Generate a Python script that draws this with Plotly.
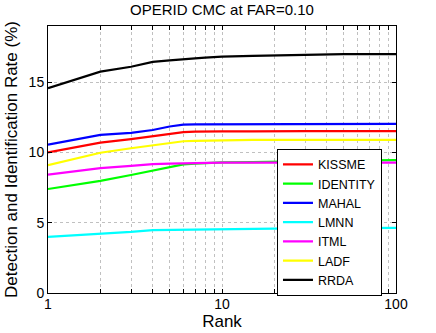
import plotly.graph_objects as go

ranks = [1, 2, 3, 4, 5, 6, 7, 8, 9, 10, 15, 20, 30, 50, 100]

kissme   = [10.0, 10.7, 10.95, 11.15, 11.3, 11.45, 11.48, 11.5, 11.5, 11.5, 11.5, 11.52, 11.52, 11.52, 11.52]
identity = [7.4, 7.98, 8.4, 8.7, 8.95, 9.15, 9.2, 9.25, 9.27, 9.3, 9.32, 9.35, 9.38, 9.42, 9.45]
mahal    = [10.55, 11.25, 11.4, 11.6, 11.85, 11.98, 12.0, 12.0, 12.0, 12.02, 12.02, 12.03, 12.03, 12.03, 12.03]
lmnn     = [4.0, 4.2, 4.35, 4.48, 4.5, 4.52, 4.53, 4.55, 4.55, 4.56, 4.57, 4.58, 4.6, 4.62, 4.64]
itml     = [8.43, 8.88, 9.05, 9.17, 9.2, 9.23, 9.25, 9.26, 9.27, 9.28, 9.28, 9.28, 9.28, 9.28, 9.28]
ladf     = [9.1, 9.98, 10.3, 10.5, 10.65, 10.8, 10.83, 10.85, 10.86, 10.88, 10.9, 10.9, 10.9, 10.9, 10.9]
rrda     = [14.57, 15.75, 16.1, 16.45, 16.55, 16.65, 16.7, 16.75, 16.8, 16.82, 16.88, 16.92, 16.98, 17.0, 17.0]

series = [
    ('KISSME', kissme, '#ff0000'),
    ('IDENTITY', identity, '#00ff00'),
    ('MAHAL', mahal, '#0000ff'),
    ('LMNN', lmnn, '#00ffff'),
    ('ITML', itml, '#ff00ff'),
    ('LADF', ladf, '#ffff00'),
    ('RRDA', rrda, '#000000'),
]

fig = go.Figure()
for name, vals, col in series:
    fig.add_trace(go.Scatter(x=ranks, y=vals, name=name, mode='lines',
                             line=dict(color=col, width=2.2)))

xtickvals = [1, 2, 3, 4, 5, 6, 7, 8, 9, 10, 20, 30, 40, 50, 60, 70, 80, 90, 100]
xticktext = ['1' if v == 1 else '10' if v == 10 else '100' if v == 100 else '' for v in xtickvals]

fnt = 'Liberation Sans, Arial, sans-serif'
fig.update_layout(
    width=436, height=333,
    margin=dict(l=48, r=40, t=26, b=40, autoexpand=False),
    paper_bgcolor='white', plot_bgcolor='white',
    font=dict(family=fnt, size=14, color='black'),
    title=dict(text='OPERID CMC at FAR=0.10', x=0.5, xanchor='center',
               xref='paper', yref='container', y=0.97, yanchor='middle',
               font=dict(size=15)),
    legend=dict(x=0.658, y=0.54, xanchor='left', yanchor='top',
                bgcolor='white', bordercolor='black', borderwidth=1,
                font=dict(size=12.5), tracegroupgap=0, itemwidth=30,
                entrywidth=78, entrywidthmode='pixels'),
    showlegend=True,
)
fig.update_xaxes(type='log', range=[0, 2], tickvals=xtickvals, ticktext=xticktext,
                 ticks='inside', ticklen=4, tickcolor='black', automargin=False,
                 showgrid=True, gridcolor='#c0c0c0', griddash='dot', gridwidth=1,
                 showline=True, linecolor='black', linewidth=1, mirror='ticks',
                 zeroline=False, title=dict(text='Rank', standoff=0),
                 ticklabelstandoff=-2, tickfont=dict(size=14))
fig.update_yaxes(range=[0, 19], tickvals=[0, 5, 10, 15], automargin=False,
                 ticks='inside', ticklen=4, tickcolor='black',
                 showgrid=True, gridcolor='#c0c0c0', griddash='dot', gridwidth=1,
                 showline=True, linecolor='black', linewidth=1, mirror='ticks',
                 zeroline=False,
                 title=dict(text='Detection and Identification Rate (%)', standoff=6),
                 tickfont=dict(size=14))

fig.write_html("out.html", config={'displayModeBar': False},
               post_script="document.body.style.margin='0';")
